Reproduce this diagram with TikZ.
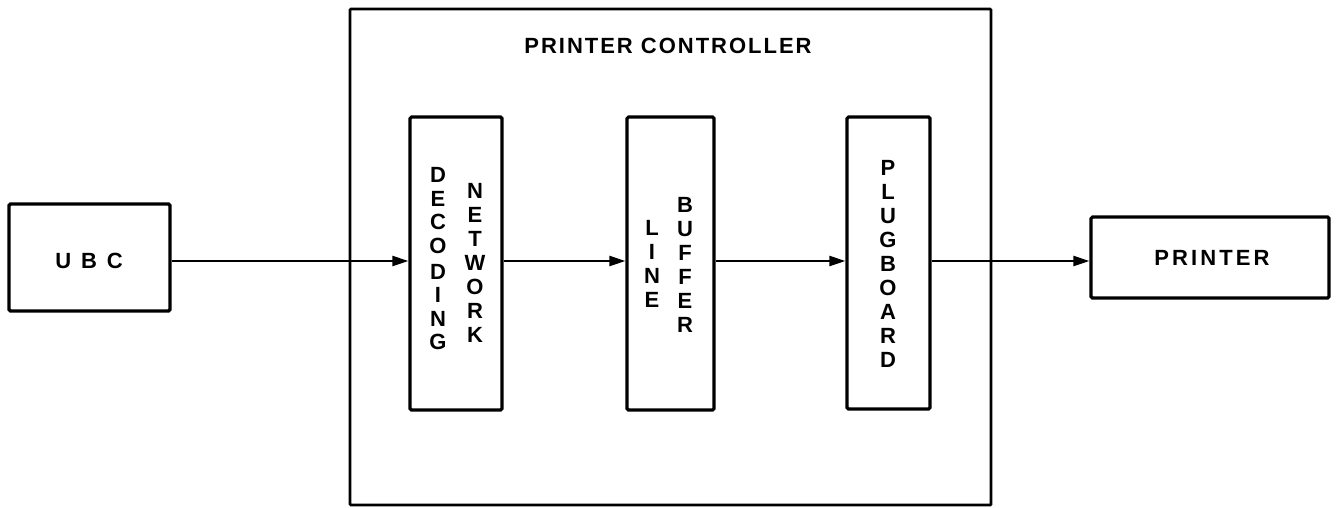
\documentclass[tikz,border=0pt]{standalone}
\usepackage{fontspec}
\setmainfont{Liberation Sans}
\usetikzlibrary{arrows.meta}
\begin{document}
\begin{tikzpicture}[x=1pt,y=-1pt,
  box/.style={draw, line width=3.2pt, rounded corners=1.5pt, inner sep=0pt},
  lbl/.style={font=\bfseries\fontsize{22}{24}\selectfont, inner sep=0pt, align=center},
  flow/.style={line width=2.2pt, -{Triangle[length=16pt,width=10pt]}}]
\useasboundingbox (0,0) rectangle (1337,507);
% boxes
\node[box, minimum width=161pt, minimum height=107pt] (ubc) at (89.5,257.5) {};
\node[box, line width=2.8pt, rounded corners=1pt, minimum width=641pt, minimum height=496pt] (ctrl) at (670.5,257) {};
\node[box, minimum width=92pt, minimum height=293pt] (dec) at (456,263.5) {};
\node[box, minimum width=87pt, minimum height=293pt] (buf) at (670.5,263.5) {};
\node[box, minimum width=83pt, minimum height=292pt] (plug) at (888.5,263) {};
\node[box, minimum width=238pt, minimum height=81pt] (prt) at (1210,257.5) {};
% labels
\node[lbl] (ubct) at (89,261) {\addfontfeature{LetterSpace=45}UBC};
\node[lbl] (ctrlt) at (668,45.5) {\addfontfeature{LetterSpace=9}PRINTER CONTROLLER};
\node[lbl] (prtt) at (1212,258) {\addfontfeature{LetterSpace=14}PRINTER};
\node[lbl, font=\bfseries\fontsize{22}{23.5}\selectfont] (dec1) at (438,259) {D\\E\\C\\O\\[2.5pt]D\\I\\N\\G};
\node[lbl] (dec2) at (475,262.5) {N\\E\\T\\W\\O\\R\\K};
\node[lbl] (buf1) at (652,263.5) {L\\I\\N\\E};
\node[lbl] (buf2) at (685,264.5) {B\\U\\F\\F\\E\\R};
\node[lbl] (plugt) at (888,263.5) {P\\L\\U\\G\\B\\O\\A\\R\\D};
% connectors
\coordinate (lvl) at (0,261);
\draw[flow] (ubc.east |- lvl) -- (dec.west |- lvl);
\draw[flow] (dec.east |- lvl) -- (buf.west |- lvl);
\draw[flow] (buf.east |- lvl) -- (plug.west |- lvl);
\draw[flow] (plug.east |- lvl) -- (prt.west |- lvl);
\end{tikzpicture}
\end{document}
